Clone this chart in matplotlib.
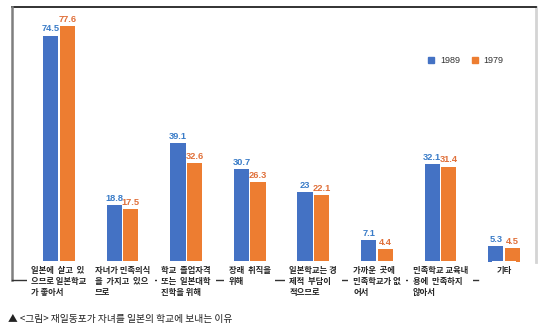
import matplotlib
matplotlib.use("Agg")
import matplotlib.pyplot as plt
import numpy as np
from matplotlib.lines import Line2D
from matplotlib.patches import Patch
from matplotlib.transforms import blended_transform_factory

# data
categories = [
    "일본에  살고  있\n으므로 일본학교\n가 좋아서",
    "자녀가 민족의식\n을  가지고  있으\n므로",
    "학교  졸업자격\n또는  일본대학\n진학을 위해",
    "장래  취직을\n위해",
    "일본학교는 경\n제적  부담이\n적으므로",
    "가까운  곳에\n민족학교가 없\n어서",
    "민족학교 교육내\n용에  만족하지\n않아서",
    "기타",
]
v1989 = [74.5, 18.8, 39.1, 30.7, 23, 7.1, 32.1, 5.3]
v1979 = [77.6, 17.5, 32.6, 26.3, 22.1, 4.4, 31.4, 4.5]
series_names = ["1989", "1979"]
caption = "▲ <그림> 재일동포가 자녀를 일본의 학교에 보내는 이유"

BLUE = "#4472c4"
ORANGE = "#ed7d31"
BLUE_TXT = "#3a7cc8"
ORANGE_TXT = "#e0703a"
KFONT = ["Noto Sans CJK KR", "DejaVu Sans"]

plt.rcParams["font.family"] = ["Liberation Sans", "Noto Sans CJK KR", "DejaVu Sans"]

W, H = 544, 327
fig = plt.figure(figsize=(W / 100, H / 100), dpi=100)
ax = fig.add_axes([12 / W, 1 - 262 / H, 524 / W, 255 / H])

x = np.arange(len(categories))
bw = 0.24
off = 0.13
b1 = ax.bar(x - off, v1989, bw, color=BLUE, zorder=2)
b2 = ax.bar(x + off, v1979, bw, color=ORANGE, zorder=2)

for bars, vals, col in [(b1, v1989, BLUE_TXT), (b2, v1979, ORANGE_TXT)]:
    for r, v in zip(bars, vals):
        ax.annotate(f"{v:g}", (r.get_x() + r.get_width() / 2, v),
                    xytext=(0, 1.5), textcoords="offset points",
                    ha="center", va="bottom", fontsize=6.7,
                    fontweight="bold", color=col)

ax.set_xlim(-0.739, 7.503)
ax.set_ylim(0, 83.9)
ax.set_xticks([])
ax.set_yticks([])
for s in ["left", "bottom"]:
    ax.spines[s].set_visible(False)
ax.spines["top"].set_color("#222222")
ax.spines["top"].set_linewidth(1.3)
ax.spines["right"].set_color("#d4d4d4")
ax.spines["right"].set_linewidth(2)

# legend
handles = [Patch(color=BLUE), Patch(color=ORANGE)]
ax.legend(handles, series_names, loc="center", bbox_to_anchor=(0.866, 0.79),
          ncol=2, frameon=False, fontsize=6.5, handlelength=0.7,
          handleheight=0.7, handletextpad=0.6, columnspacing=1.3,
          labelcolor="#333333")

# bracket line round the category labels
fig.add_artist(Line2D([12 / W, 12 / W], [1 - 7 / H, 1 - 280 / H],
                      color="#7f7f7f", lw=1.8, zorder=2))
fig.add_artist(Line2D([12 / W, 478 / W], [1 - 280 / H, 1 - 280 / H],
                      color="#333333", lw=1.0, zorder=2))

# category labels
tr = blended_transform_factory(ax.transData, fig.transFigure)
for xi, lab in zip(x, categories):
    fig.text(xi, 1 - 266 / H, lab, transform=tr, ha="center", va="top",
             multialignment="left", fontsize=6.0, fontweight="bold",
             family=KFONT, color="#262626", linespacing=1.3, zorder=3,
             bbox=dict(fc="white", ec="none", pad=3.5))

fig.text(8 / W, 1 - 319 / H, caption, ha="left", va="center",
         fontsize=7.0, family=KFONT, color="#222222")

fig.savefig("out.png", dpi=100)
